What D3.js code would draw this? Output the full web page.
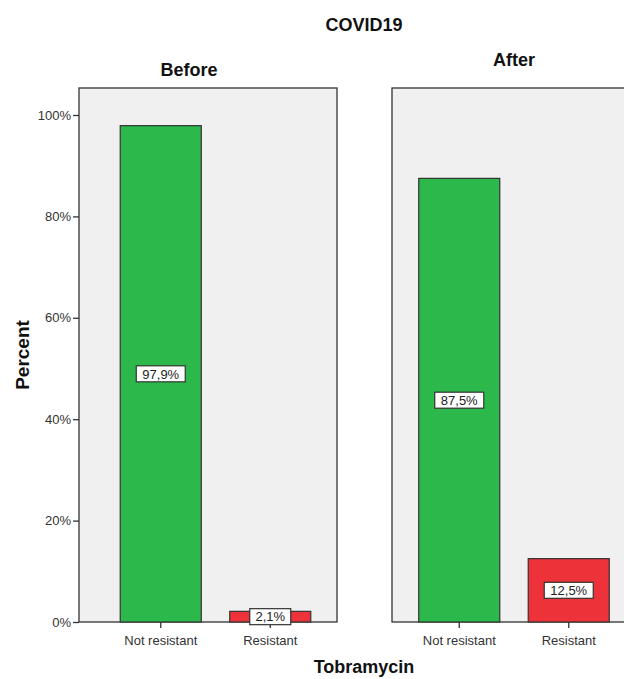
<!DOCTYPE html>
<html>
<head>
<meta charset="utf-8">
<script src="https://cdn.jsdelivr.net/npm/d3@7"></script>
<style>
  body { margin: 0; background: #fff; }
  svg { display: block; font-family: "Liberation Sans", Arial, sans-serif; }
</style>
</head>
<body>
<svg width="624" height="679"></svg>
<script>
// data
var panels = ["Before", "After"];
var categories = ["Not resistant", "Resistant"];
var beforeValues = [97.9, 2.1];
var afterValues = [87.5, 12.5];
var valueLabels = [["97,9%", "2,1%"], ["87,5%", "12,5%"]];
var yTicks = [0, 20, 40, 60, 80, 100];
var barColors = ["#2db84b", "#ee3239"];

var svg = d3.select("svg");

var plotTop = 88, plotBottom = 622;
var y = d3.scaleLinear().domain([0, 100]).range([plotBottom, 115]);

// panel frames (right one runs off the edge like the original)
var frames = [
    { x0: 79, x1: 337, band: [106, 325], titleY: 76 },
    { x0: 392, x1: 660, band: [404.5, 623.5], titleY: 66 }
];
var series = [beforeValues, afterValues];

svg.append("text")
    .attr("x", 364)
    .attr("y", 31)
    .attr("text-anchor", "middle")
    .attr("font-size", "18px")
    .attr("font-weight", "bold")
    .attr("fill", "#111")
    .text("COVID19");

frames.forEach(function (f, p) {
    var x = d3.scaleBand()
        .domain(categories)
        .range(f.band)
        .paddingInner(0.26)
        .paddingOuter(0.13);

    var g = svg.append("g");

    g.append("rect")
        .attr("x", f.x0)
        .attr("y", plotTop)
        .attr("width", f.x1 - f.x0)
        .attr("height", plotBottom - plotTop)
        .attr("fill", "#f0f0f0")
        .attr("stroke", "#333")
        .attr("stroke-width", 1.3);

    g.append("text")
        .attr("x", p == 0 ? 189 : 514)
        .attr("y", f.titleY)
        .attr("text-anchor", "middle")
        .attr("font-size", "18px")
        .attr("font-weight", "bold")
        .attr("fill", "#111")
        .text(panels[p]);

    var data = categories.map(function (c, i) {
        return { cat: c, value: series[p][i], label: valueLabels[p][i], color: barColors[i] };
    });

    g.selectAll(".bar")
        .data(data)
        .enter().append("rect")
        .attr("class", "bar")
        .attr("x", function (d) { return x(d.cat); })
        .attr("y", function (d) { return y(d.value); })
        .attr("width", x.bandwidth())
        .attr("height", function (d) { return y(0) - y(d.value); })
        .attr("fill", function (d) { return d.color; })
        .attr("stroke", "#333")
        .attr("stroke-width", 1.2);

    // bottom axis
    var ax = g.append("g")
        .attr("transform", "translate(0," + plotBottom + ")")
        .call(d3.axisBottom(x).tickSize(6).tickSizeOuter(0));
    ax.select(".domain").remove();
    ax.selectAll("line").attr("stroke", "#333").attr("stroke-width", 1.3);
    ax.selectAll("text")
        .attr("font-family", "Liberation Sans, Arial, sans-serif")
        .attr("font-size", "13px")
        .attr("fill", "#333")
        .attr("dy", "1.05em");

    var lab = g.selectAll(".lab")
        .data(data)
        .enter().append("g")
        .attr("class", "lab")
        .attr("transform", function (d) {
            return "translate(" + (x(d.cat) + x.bandwidth() / 2) + "," + ((y(0) + y(d.value)) / 2) + ")";
        });
    lab.append("rect")
        .attr("x", function (d) { return d.label.length > 4 ? -24.5 : -20.5; })
        .attr("y", -8)
        .attr("width", function (d) { return d.label.length > 4 ? 49 : 41; })
        .attr("height", 16)
        .attr("fill", "#fff")
        .attr("stroke", "#333")
        .attr("stroke-width", 1.2);
    lab.append("text")
        .attr("text-anchor", "middle")
        .attr("dy", "0.36em")
        .attr("font-size", "13px")
        .attr("fill", "#222")
        .text(function (d) { return d.label; });
});

// left axis
var ay = svg.append("g")
    .attr("transform", "translate(79,0)")
    .call(d3.axisLeft(y).tickValues(yTicks).tickSize(6).tickSizeOuter(0)
        .tickFormat(function (d) { return d + "%"; }));
ay.select(".domain").remove();
ay.selectAll("line").attr("stroke", "#333").attr("stroke-width", 1.3);
ay.selectAll("text")
    .attr("font-family", "Liberation Sans, Arial, sans-serif")
    .attr("font-size", "13px")
    .attr("fill", "#333")
    .attr("x", -8);

svg.append("text")
    .attr("transform", "translate(29,355) rotate(-90)")
    .attr("text-anchor", "middle")
    .attr("font-size", "19px")
    .attr("font-weight", "bold")
    .attr("fill", "#111")
    .text("Percent");

svg.append("text")
    .attr("x", 364)
    .attr("y", 673)
    .attr("text-anchor", "middle")
    .attr("font-size", "18px")
    .attr("font-weight", "bold")
    .attr("fill", "#111")
    .text("Tobramycin");
</script>
</body>
</html>
